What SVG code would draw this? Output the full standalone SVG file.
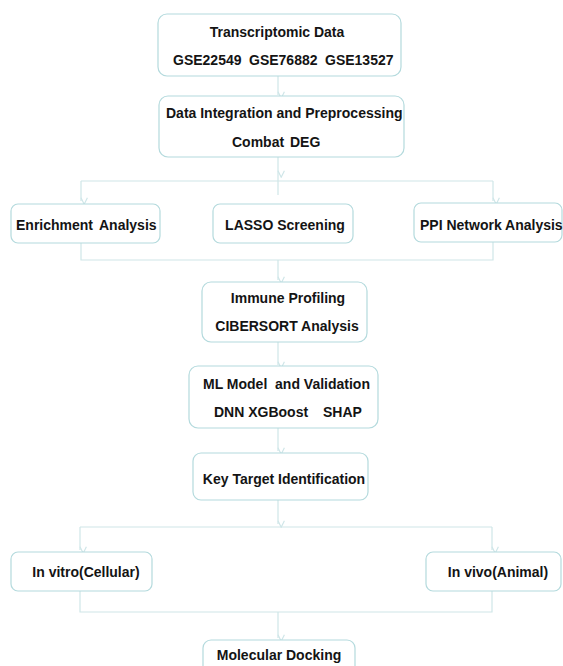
<svg xmlns="http://www.w3.org/2000/svg" width="563" height="666" viewBox="0 0 563 666">
<defs>
<style>
.box{fill:#ffffff;stroke:#b4dadd;stroke-width:1.2}
.t{font-family:"Liberation Sans",Arial,sans-serif;font-weight:bold;font-size:14px;fill:#141414}
.c{text-anchor:middle}
.ln{fill:none;stroke:#cfe6e8;stroke-width:1.2}
.ar{fill:none;stroke:#cfe6e8;stroke-width:1.2;marker-end:url(#ah)}
</style>
<marker id="ah" viewBox="0 0 10 10" refX="5" refY="9" markerWidth="8" markerHeight="8" markerUnits="userSpaceOnUse" orient="auto-start-reverse">
<path d="M1,1 L5,9 L9,1" fill="none" stroke="#cfe6e8" stroke-width="1.5" transform="rotate(-90 5 5)"/>
</marker>
</defs>
<rect width="563" height="666" fill="#ffffff"/>
<g id="connectors">
<path class="ar" d="M278,76 V95"/>
<path class="ar" d="M278,157 V174"/>
<path class="ln" d="M278,174 V195"/>
<path class="ln" d="M81,181 H493"/>
<path class="ar" d="M81,181 V201"/>
<path class="ar" d="M493,181 V201"/>
<path class="ln" d="M81,243 V260 H493 V242"/>
<path class="ar" d="M278,260 V280"/>
<path class="ar" d="M278,342 V365"/>
<path class="ar" d="M278,428 V451"/>
<path class="ar" d="M278,500 V524"/>
<path class="ln" d="M80,527 H492"/>
<path class="ar" d="M80,527 V550"/>
<path class="ar" d="M492,527 V550"/>
<path class="ln" d="M80,591 V612 H492 V591"/>
<path class="ar" d="M278,612 V638"/>
</g>
<g id="transcriptomic">
<rect class="box" x="158" y="14" width="243" height="62" rx="9"/>
<text class="t c" x="277" y="37">Transcriptomic Data</text>
<text class="t" y="65"><tspan x="173">GSE22549</tspan><tspan x="249">GSE76882</tspan><tspan x="325">GSE13527</tspan></text>
</g>
<g id="integration">
<rect class="box" x="159" y="96" width="245" height="61" rx="9"/>
<text class="t" x="166" y="118">Data Integration and Preprocessing</text>
<text class="t" y="147"><tspan x="232">Combat</tspan><tspan x="290">DEG</tspan></text>
</g>
<g id="enrichment">
<rect class="box" x="11" y="204" width="149" height="39" rx="7"/>
<text class="t" y="230"><tspan x="16">Enrichment</tspan><tspan x="99">Analysis</tspan></text>
</g>
<g id="lasso">
<rect class="box" x="213" y="204" width="140" height="39" rx="7"/>
<text class="t c" x="285" y="230">LASSO Screening</text>
</g>
<g id="ppi">
<rect class="box" x="414" y="203" width="148" height="39" rx="7"/>
<text class="t" x="420" y="230">PPI Network Analysis</text>
</g>
<g id="immune">
<rect class="box" x="202" y="282" width="165" height="60" rx="9"/>
<text class="t c" x="288" y="303">Immune Profiling</text>
<text class="t c" x="287" y="331">CIBERSORT Analysis</text>
</g>
<g id="ml">
<rect class="box" x="189" y="366" width="189" height="62" rx="9"/>
<text class="t" x="203" y="389" style="white-space:pre">ML Model  and Validation</text>
<text class="t" y="417"><tspan x="214">DNN XGBoost</tspan><tspan x="323">SHAP</tspan></text>
</g>
<g id="keytarget">
<rect class="box" x="193" y="453" width="175" height="47" rx="8"/>
<text class="t c" x="284" y="484">Key Target Identification</text>
</g>
<g id="invitro">
<rect class="box" x="11" y="552" width="141" height="39" rx="7"/>
<text class="t c" x="86" y="577">In vitro(Cellular)</text>
</g>
<g id="invivo">
<rect class="box" x="426" y="552" width="135" height="39" rx="7"/>
<text class="t c" x="498" y="577">In vivo(Animal)</text>
</g>
<g id="docking">
<rect class="box" x="203" y="640" width="152" height="40" rx="8"/>
<text class="t c" x="279" y="660">Molecular Docking</text>
</g>
</svg>
